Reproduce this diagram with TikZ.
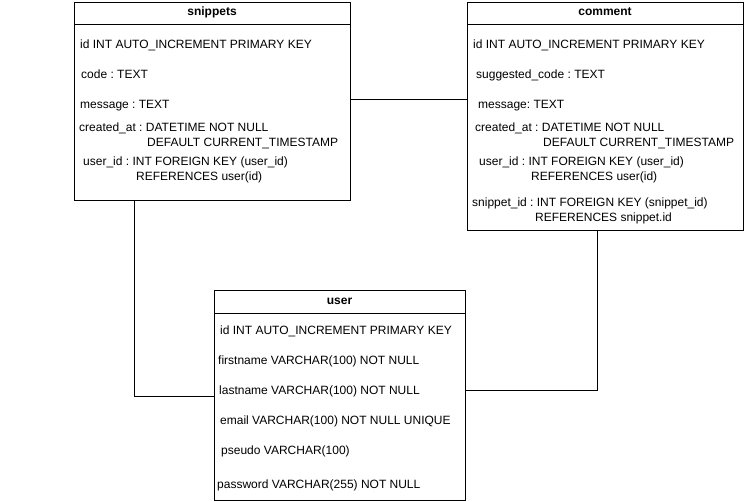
\documentclass[tikz,border=0pt]{standalone}
\usepackage{fontspec}
\setmainfont{Liberation Sans}
\frenchspacing
\begin{document}
\begin{tikzpicture}[x=1pt,y=-1pt,
  tbl/.style={draw,line width=0.9pt,anchor=north west,inner sep=0pt},
  hdr/.style={font=\fontsize{12}{14}\selectfont\bfseries,anchor=center,inner sep=0pt},
  fld/.style={font=\fontsize{12}{14}\selectfont\frenchspacing,anchor=west,inner sep=0pt,text height=8.6pt,text depth=2.5pt},
  link/.style={line width=0.9pt}]
\useasboundingbox (0,0) rectangle (746,501);
% snippets
\node[tbl,minimum width=276pt,minimum height=198pt] (snip) at (74,2) {};
\draw[line width=0.9pt] (74,24) -- (350,24);
\node[hdr] (snipH) at (212,12) {snippets};
\node[fld] (s1) at (80,45) {id INT AUTO\_INCREMENT PRIMARY KEY};
\node[fld] (s2) at (81,75) {code : TEXT};
\node[fld] (s3) at (80,105) {message : TEXT};
\node[fld] (s4) at (79,128) {created\_at : DATETIME NOT NULL};
\node[fld] (s4b) at (147,143) {DEFAULT CURRENT\_TIMESTAMP};
\node[fld] (s5) at (83,162) {user\_id : INT FOREIGN KEY (user\_id)};
\node[fld] (s5b) at (136,177) {REFERENCES user(id)};
% comment
\node[tbl,minimum width=276pt,minimum height=228pt] (comm) at (467,2) {};
\draw[line width=0.9pt] (467,24) -- (743,24);
\node[hdr] (commH) at (605,12) {comment};
\node[fld] (c1) at (473,45) {id INT AUTO\_INCREMENT PRIMARY KEY};
\node[fld] (c2) at (476,75) {suggested\_code : TEXT};
\node[fld] (c3) at (478,105) {message: TEXT};
\node[fld] (c4) at (475,128) {created\_at : DATETIME NOT NULL};
\node[fld] (c4b) at (543,143) {DEFAULT CURRENT\_TIMESTAMP};
\node[fld] (c5) at (479,162) {user\_id : INT FOREIGN KEY (user\_id)};
\node[fld] (c5b) at (531,177) {REFERENCES user(id)};
\node[fld] (c6) at (472,203) {snippet\_id : INT FOREIGN KEY (snippet\_id)};
\node[fld] (c6b) at (535,218) {REFERENCES snippet.id};
% user
\node[tbl,minimum width=251pt,minimum height=210pt] (usr) at (214,290) {};
\draw[line width=0.9pt] (214,313) -- (465,313);
\node[hdr] (usrH) at (339.5,301) {user};
\node[fld] (u1) at (220,331) {id INT AUTO\_INCREMENT PRIMARY KEY};
\node[fld] (u2) at (218,361) {firstname VARCHAR(100) NOT NULL};
\node[fld] (u3) at (219,391) {lastname VARCHAR(100) NOT NULL};
\node[fld] (u4) at (220,421) {email VARCHAR(100) NOT NULL UNIQUE};
\node[fld] (u5) at (221,451) {pseudo VARCHAR(100)};
\node[fld] (u6) at (217,485) {password VARCHAR(255) NOT NULL};
% connectors
\coordinate (ya) at (0,99);
\coordinate (xb) at (134,0);
\coordinate (yb) at (0,396);
\coordinate (xc) at (597,0);
\coordinate (yc) at (0,390);
\draw[link] (snip.east |- ya) -- (comm.west |- ya);
\draw[link] (snip.south -| xb) -- (xb |- yb) -- (usr.west |- yb);
\draw[link] (comm.south -| xc) -- (xc |- yc) -- (usr.east |- yc);
\end{tikzpicture}
\end{document}
